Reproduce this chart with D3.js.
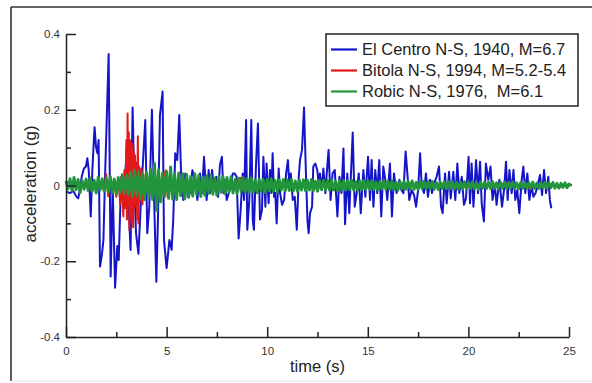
<!DOCTYPE html>
<html>
<head>
<meta charset="utf-8">
<script src="https://cdn.jsdelivr.net/npm/d3@7"></script>
<style>
  body { margin: 0; background: #fff; }
  svg { display: block; font-family: "Liberation Sans", Arial, sans-serif; }
</style>
</head>
<body>
<svg id="chart" width="592" height="383"></svg>
<script>
const xTicks = [0, 5, 10, 15, 20, 25];
const xMinorTicks = [2.5, 7.5, 12.5, 17.5, 22.5];
const yTicks = [-0.4, -0.2, 0, 0.2, 0.4];
const yTickLabels = ["-0.4", "-0.2", "0", "0.2", "0.4"];
const yMinorTicks = [-0.3, -0.1, 0.1, 0.3];

const seriesNames = ["El Centro N-S, 1940, M=6.7", "Bitola N-S, 1994, M=5.2-5.4", "Robic N-S, 1976,  M=6.1"];
const seriesColors = ["#1414c8", "#e31a1c", "#22953c"];

// El Centro N-S: [time (s), acceleration (g)]
const elCentro = [
  [0.00, -0.016], [0.20, -0.020], [0.36, -0.014], [0.50, -0.028], [0.61, -0.034], [0.70, -0.007],
  [0.78, 0.023], [0.89, 0.045], [0.99, 0.050], [1.06, 0.072], [1.13, 0.040], [1.23, -0.082],
  [1.31, 0.040], [1.36, 0.094], [1.42, 0.154], [1.49, 0.103], [1.56, 0.085], [1.62, 0.120],
  [1.69, -0.214], [1.79, -0.180], [1.86, -0.144], [1.95, 0.040], [2.12, 0.347], [2.22, -0.240],
  [2.32, -0.003], [2.44, -0.270], [2.55, -0.160], [2.62, -0.197], [2.68, -0.090], [2.75, 0.023],
  [2.85, -0.056], [3.02, 0.100], [3.10, -0.040], [3.21, -0.170], [3.31, 0.206], [3.38, 0.040],
  [3.48, -0.126], [3.60, -0.180], [3.76, 0.000], [3.94, 0.173], [4.04, -0.126], [4.14, -0.056],
  [4.27, 0.200], [4.37, -0.020], [4.49, -0.254], [4.57, -0.090], [4.67, 0.186], [4.80, 0.248],
  [4.87, -0.144], [5.00, -0.218], [5.14, -0.144], [5.25, -0.170], [5.33, -0.090], [5.43, 0.085],
  [5.53, 0.067], [5.63, 0.186], [5.72, 0.032], [5.83, -0.038], [5.93, 0.032], [6.05, -0.030],
  [6.16, -0.020], [6.28, 0.040], [6.41, 0.015], [6.53, -0.038], [6.66, 0.032], [6.76, -0.020],
  [6.86, 0.076], [6.99, -0.038], [7.09, 0.041], [7.16, -0.020], [7.26, 0.041], [7.36, -0.012],
  [7.46, 0.023], [7.56, -0.030], [7.65, 0.054], [7.75, 0.076], [7.82, -0.020], [7.89, 0.015],
  [7.99, -0.038], [8.09, -0.020], [8.19, 0.000], [8.29, 0.032], [8.38, 0.032], [8.48, 0.023],
  [8.58, -0.140], [8.68, -0.065], [8.78, 0.032], [8.85, -0.038], [8.95, 0.173], [9.01, -0.117],
  [9.11, -0.038], [9.21, 0.173], [9.28, -0.090], [9.34, -0.117], [9.44, 0.050], [9.54, 0.164],
  [9.64, -0.090], [9.74, -0.065], [9.81, 0.076], [9.91, -0.056], [9.97, 0.058], [10.07, -0.047],
  [10.14, 0.041], [10.21, -0.020], [10.27, 0.085], [10.34, -0.030], [10.40, -0.020], [10.47, -0.100],
  [10.57, 0.045], [10.64, -0.020], [10.74, -0.051], [10.84, -0.038], [10.94, 0.032], [11.03, 0.067],
  [11.10, 0.000], [11.17, 0.032], [11.27, -0.038], [11.37, -0.030], [11.47, -0.117], [11.57, 0.023],
  [11.63, 0.067], [11.73, 0.094], [11.83, 0.206], [11.93, 0.023], [12.00, -0.090], [12.06, -0.126],
  [12.13, -0.073], [12.23, -0.056], [12.29, 0.050], [12.39, 0.058], [12.49, 0.041], [12.56, 0.000],
  [12.62, 0.032], [12.72, -0.012], [12.79, 0.045], [12.89, -0.020], [12.96, 0.032], [13.05, 0.094],
  [13.15, -0.038], [13.25, 0.032], [13.36, 0.041], [13.42, -0.020], [13.49, -0.082], [13.59, 0.023],
  [13.69, -0.020], [13.79, 0.098], [13.87, -0.102], [13.98, 0.032], [14.08, -0.073], [14.25, 0.140],
  [14.35, -0.056], [14.45, -0.020], [14.55, 0.032], [14.65, -0.073], [14.78, 0.041], [14.88, -0.030],
  [15.01, 0.076], [15.11, -0.038], [15.19, 0.067], [15.28, -0.056], [15.37, 0.041], [15.47, -0.020],
  [15.57, 0.067], [15.67, -0.082], [15.77, 0.050], [15.87, 0.015], [15.97, -0.038], [16.10, 0.058],
  [16.20, -0.082], [16.30, 0.032], [16.43, -0.020], [16.57, 0.015], [16.67, -0.012], [16.77, -0.020],
  [16.88, 0.090], [16.98, 0.023], [17.06, -0.038], [17.18, -0.012], [17.30, -0.025], [17.40, -0.056],
  [17.50, -0.012], [17.60, 0.085], [17.68, 0.000], [17.79, -0.020], [17.89, 0.032], [17.99, -0.030],
  [18.09, 0.015], [18.19, -0.020], [18.29, 0.006], [18.42, 0.023], [18.54, 0.050], [18.64, -0.056],
  [18.72, -0.073], [18.84, 0.032], [18.92, -0.047], [19.04, 0.036], [19.12, -0.034], [19.25, 0.036],
  [19.35, -0.038], [19.45, 0.058], [19.55, -0.020], [19.67, 0.023], [19.78, -0.051], [19.88, -0.034],
  [20.01, 0.076], [20.08, -0.047], [20.16, 0.058], [20.25, -0.056], [20.38, 0.067], [20.48, -0.020],
  [20.58, 0.063], [20.66, -0.047], [20.77, -0.095], [20.87, 0.058], [20.99, 0.015], [21.10, 0.050],
  [21.20, -0.038], [21.32, 0.000], [21.40, -0.051], [21.54, 0.015], [21.67, -0.056], [21.77, -0.012],
  [21.87, 0.063], [21.95, -0.038], [22.04, 0.041], [22.15, -0.020], [22.24, 0.041], [22.33, -0.038],
  [22.43, -0.012], [22.53, -0.073], [22.65, 0.015], [22.73, 0.050], [22.83, -0.020], [22.93, 0.032],
  [23.03, -0.038], [23.14, 0.000], [23.23, -0.030], [23.34, -0.020], [23.44, 0.000], [23.56, 0.028],
  [23.66, -0.025], [23.76, 0.041], [23.86, -0.020], [23.97, 0.023], [24.05, -0.038], [24.12, -0.060]
];

// Bitola N-S: [time (s), acceleration (g)]
const bitola = [
  [0.00, 0.000], [0.50, 0.005], [1.00, -0.004], [1.50, 0.006], [1.90, -0.010], [2.00, 0.030],
  [2.10, -0.028], [2.20, 0.020], [2.30, -0.020], [2.40, 0.015], [2.50, -0.030], [2.60, 0.020],
  [2.70, -0.050], [2.78, 0.030], [2.85, -0.082], [2.90, 0.040], [2.95, -0.060], [3.00, 0.120],
  [3.03, -0.090], [3.06, 0.190], [3.09, -0.050], [3.12, 0.140], [3.15, -0.118], [3.18, 0.120],
  [3.21, -0.080], [3.24, 0.100], [3.27, -0.100], [3.30, 0.110], [3.34, -0.110], [3.37, 0.090],
  [3.40, -0.060], [3.43, 0.080], [3.47, -0.050], [3.50, 0.060], [3.54, -0.090], [3.57, 0.130],
  [3.60, -0.100], [3.64, 0.050], [3.70, -0.040], [3.75, 0.045], [3.80, -0.050], [3.85, 0.030],
  [3.90, -0.030], [4.00, 0.030], [4.10, -0.020], [4.20, 0.020], [4.30, -0.030], [4.40, 0.025],
  [4.50, -0.020], [4.60, 0.020], [4.75, -0.020], [4.90, 0.030], [4.97, 0.040], [5.05, -0.030],
  [5.20, 0.015], [5.40, -0.010], [5.70, 0.012], [6.00, -0.008], [6.50, 0.010], [7.00, -0.008],
  [7.50, 0.010], [8.00, -0.010], [8.50, 0.015], [8.70, 0.020], [8.80, -0.012], [9.20, 0.010],
  [10.00, -0.008], [11.00, 0.006], [12.00, -0.005], [14.00, 0.005], [16.00, -0.004], [18.00, 0.004],
  [20.00, -0.004], [22.00, 0.005], [23.00, -0.006], [24.00, 0.004], [24.50, -0.005], [25.00, 0.003],
  [25.15, 0.000]
];

// Robic N-S: sampled every robicStep seconds from t = 0
const robicStep = 0.1;
const robic = [
  0.012, -0.009, 0.018, -0.014, 0.021, -0.011, 0.016, -0.019, 0.013, -0.010,
  0.017, -0.013, 0.020, -0.016, 0.014, -0.020, 0.022, -0.012, 0.018, -0.015,
  0.019, -0.016, 0.024, -0.019, 0.017, -0.023, 0.021, -0.018, 0.026, -0.021,
  0.027, -0.024, 0.034, -0.029, 0.041, -0.027, 0.037, -0.035, 0.031, -0.038,
  0.035, -0.031, 0.044, -0.037, 0.058, -0.066, 0.041, -0.043, 0.033, -0.029,
  0.037, -0.034, 0.049, -0.036, 0.029, -0.037, 0.033, -0.027, 0.031, -0.035,
  0.029, -0.031, 0.024, -0.028, 0.031, -0.023, 0.027, -0.029, 0.021, -0.026,
  0.025, -0.021, 0.027, -0.023, 0.019, -0.026, 0.023, -0.018, 0.024, -0.022,
  0.021, -0.017, 0.023, -0.020, 0.016, -0.022, 0.019, -0.015, 0.021, -0.018,
  0.018, -0.016, 0.020, -0.017, 0.014, -0.019, 0.017, -0.014, 0.016, -0.018,
  0.016, -0.014, 0.018, -0.015, 0.013, -0.017, 0.015, -0.012, 0.016, -0.014,
  0.015, -0.013, 0.016, -0.014, 0.012, -0.016, 0.014, -0.012, 0.015, -0.013,
  0.014, -0.012, 0.016, -0.013, 0.011, -0.015, 0.013, -0.011, 0.014, -0.012,
  0.013, -0.012, 0.015, -0.012, 0.011, -0.014, 0.012, -0.010, 0.013, -0.012,
  0.013, -0.011, 0.014, -0.012, 0.010, -0.013, 0.012, -0.010, 0.013, -0.011,
  0.012, -0.010, 0.013, -0.011, 0.009, -0.012, 0.011, -0.009, 0.012, -0.010,
  0.011, -0.010, 0.012, -0.011, 0.009, -0.012, 0.010, -0.009, 0.011, -0.010,
  0.011, -0.009, 0.012, -0.010, 0.008, -0.011, 0.010, -0.008, 0.011, -0.009,
  0.010, -0.009, 0.011, -0.010, 0.008, -0.011, 0.009, -0.008, 0.010, -0.009,
  0.010, -0.008, 0.011, -0.009, 0.008, -0.010, 0.009, -0.008, 0.010, -0.009,
  0.009, -0.008, 0.010, -0.009, 0.007, -0.010, 0.009, -0.007, 0.009, -0.008,
  0.009, -0.008, 0.010, -0.008, 0.007, -0.009, 0.008, -0.007, 0.009, -0.008,
  0.008, -0.007, 0.009, -0.008, 0.007, -0.009, 0.008, -0.007, 0.008, -0.007,
  0.008, -0.007, 0.009, -0.008, 0.006, -0.008, 0.007, -0.006, 0.008, -0.007,
  0.007, -0.006, 0.008, -0.007, 0.006, -0.007, 0.006, -0.005, 0.007, -0.006,
  0.004, 0.000
];

const svg = d3.select("#chart");

// outer frame of the figure
svg.append("line").attr("x1", 11).attr("y1", 7).attr("x2", 592).attr("y2", 7)
  .attr("stroke", "#333").attr("stroke-width", 1.6);
svg.append("line").attr("x1", 11).attr("y1", 7).attr("x2", 11).attr("y2", 381)
  .attr("stroke", "#333").attr("stroke-width", 1.6);
svg.append("line").attr("x1", 11).attr("y1", 381).attr("x2", 592).attr("y2", 381)
  .attr("stroke", "#e6e6e6").attr("stroke-width", 1);

const x = d3.scaleLinear().domain([0, 25]).range([66, 569]);
const y = d3.scaleLinear().domain([-0.4, 0.4]).range([337, 34]);

const line = d3.line().x(d => x(d[0])).y(d => y(d[1]));

const robicPts = robic.map((v, i) => [i * robicStep, v]);

const traces = [elCentro, bitola, robicPts];
const widths = [2, 2, 2.9];

svg.append("g")
  .selectAll("path")
  .data(traces)
  .enter().append("path")
  .attr("d", d => line(d))
  .attr("fill", "none")
  .attr("stroke", (d, i) => seriesColors[i])
  .attr("stroke-width", (d, i) => widths[i])
  .attr("stroke-linejoin", "round");

// axes, ticks pointing inward
svg.append("g")
  .attr("transform", "translate(0,337)")
  .call(d3.axisBottom(x).tickValues(xTicks).tickSize(-10).tickSizeOuter(0).tickPadding(10).tickFormat(d3.format("d")));
svg.append("g")
  .attr("transform", "translate(0,337)")
  .call(d3.axisBottom(x).tickValues(xMinorTicks).tickSize(-5).tickFormat(""))
  .call(g => g.select(".domain").remove());

svg.append("g")
  .attr("transform", "translate(66,0)")
  .call(d3.axisLeft(y).tickValues(yTicks).tickSize(-10).tickSizeOuter(0).tickPadding(6)
    .tickFormat((d, i) => yTickLabels[i]));
svg.append("g")
  .attr("transform", "translate(66,0)")
  .call(d3.axisLeft(y).tickValues(yMinorTicks).tickSize(-5).tickFormat(""))
  .call(g => g.select(".domain").remove());

svg.selectAll(".domain, .tick line").attr("stroke", "#222").attr("stroke-width", 1.5);
svg.selectAll(".tick text").attr("fill", "#333").attr("font-size", 11.5)
  .attr("font-family", "'Liberation Sans', Arial, sans-serif");

svg.append("text")
  .attr("x", 317.5)
  .attr("y", 372)
  .attr("text-anchor", "middle")
  .attr("font-size", 16.5)
  .attr("fill", "#222")
  .text("time (s)");

svg.append("text")
  .attr("transform", "translate(36,184) rotate(-90)")
  .attr("text-anchor", "middle")
  .attr("font-size", 17)
  .attr("fill", "#222")
  .text("acceleration (g)");

// legend
const legend = svg.append("g");
legend.append("rect")
  .attr("x", 326).attr("y", 34)
  .attr("width", 252).attr("height", 72)
  .attr("fill", "#fff")
  .attr("stroke", "#222")
  .attr("stroke-width", 1.5);

const items = legend.selectAll("g.item")
  .data(seriesNames)
  .enter().append("g")
  .attr("class", "item")
  .attr("transform", (d, i) => `translate(0,${49.5 + i * 21})`);

items.append("line")
  .attr("x1", 331).attr("x2", 357)
  .attr("stroke", (d, i) => seriesColors[i])
  .attr("stroke-width", 2.2);

items.append("text")
  .attr("x", 362)
  .attr("dy", "0.35em")
  .attr("font-size", 16.5)
  .attr("fill", "#222")
  .style("white-space", "pre")
  .text(d => d);
</script>
</body>
</html>
